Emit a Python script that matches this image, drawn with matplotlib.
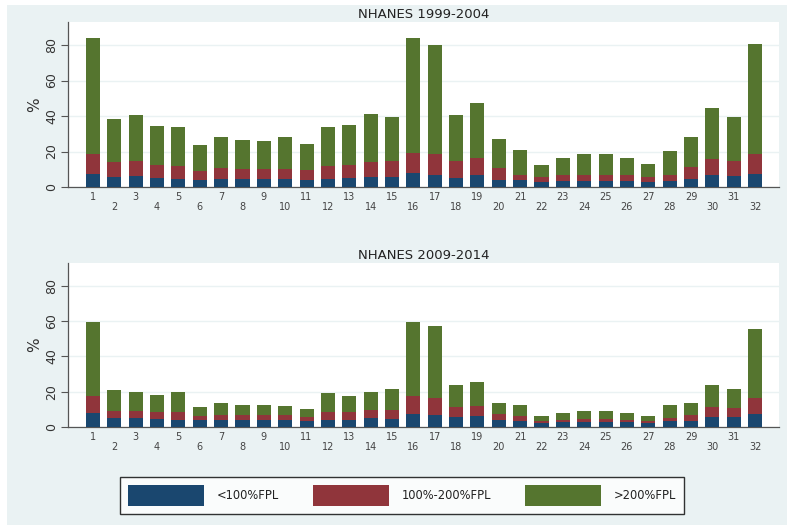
import matplotlib
matplotlib.use("Agg")
import matplotlib.pyplot as plt
from matplotlib import patches
import numpy as np

# Categories 1..32
groups = list(range(1, 33))

# NHANES 1999-2004, stacked segments (%)
blue_9904 = [7.5, 5.6, 6.0, 5.1, 4.7, 3.8, 4.3, 4.3, 4.3, 4.3, 3.8, 4.7, 5.1, 5.6, 5.6, 7.9,
             7.0, 5.1, 6.6, 4.1, 3.8, 2.8, 3.2, 3.6, 3.6, 3.6, 2.8, 3.6, 4.5, 7.0, 6.0, 7.3]
red_9904 = [11.3, 8.5, 8.5, 7.5, 7.0, 5.0, 6.4, 5.7, 5.7, 6.1, 6.0, 7.2, 7.5, 8.7, 9.1, 11.5,
            11.8, 9.4, 10.0, 6.6, 3.2, 2.8, 3.4, 3.4, 3.4, 3.4, 2.8, 3.4, 6.8, 9.0, 8.9, 11.3]
green_9904 = [65.3, 24.5, 26.0, 22.0, 22.2, 14.7, 17.7, 16.7, 16.2, 17.6, 14.3, 22.0, 22.4, 26.7, 25.0, 64.7,
              61.2, 26.0, 30.5, 16.6, 14.1, 7.0, 9.6, 11.8, 11.4, 9.6, 7.4, 13.3, 16.7, 28.8, 24.8, 62.0]

# NHANES 2009-2014
blue_0914 = [7.9, 5.1, 5.1, 4.7, 4.1, 3.8, 3.8, 3.8, 3.8, 3.8, 3.6, 4.1, 4.1, 5.1, 4.7, 7.5,
             7.0, 5.6, 6.0, 3.8, 3.2, 2.3, 2.8, 3.0, 3.0, 2.8, 2.3, 3.2, 3.6, 5.6, 5.5, 7.2]
red_0914 = [9.8, 4.1, 4.1, 4.0, 4.2, 2.2, 3.2, 3.2, 2.8, 2.8, 1.9, 4.2, 4.2, 4.3, 5.1, 9.8,
            9.4, 5.7, 5.7, 3.7, 2.8, 1.1, 1.0, 1.7, 1.5, 1.3, 0.9, 1.9, 3.0, 5.5, 5.4, 9.2]
green_0914 = [41.6, 11.7, 10.9, 9.2, 11.5, 5.1, 6.4, 5.6, 5.6, 5.4, 4.9, 10.9, 9.4, 10.7, 11.7, 42.4,
              40.6, 12.6, 13.7, 6.1, 6.2, 3.0, 3.9, 4.5, 4.3, 4.0, 2.8, 7.3, 6.8, 12.8, 10.7, 39.1]

labels = ['<100%FPL', '100%-200%FPL', '>200%FPL']
colors = ['#1a476f', '#90353b', '#55752f']
bg = '#eaf2f3'

fig = plt.figure(figsize=(8, 5.3), dpi=100, facecolor='white')

# Stata-like graph region behind everything
bg_ax = fig.add_axes([7/800, 1-525/530, 780/800, 520/530], zorder=-10)
bg_ax.set_facecolor(bg)
bg_ax.set_xticks([])
bg_ax.set_yticks([])
for s in bg_ax.spines.values():
    s.set_visible(False)


def panel(rect, title, blue, red, green):
    ax = fig.add_axes(rect)
    ax.set_facecolor('white')
    x = np.array(groups)
    b = np.array(blue)
    r = np.array(red)
    g = np.array(green)
    ax.bar(x, b, width=0.66, color=colors[0], zorder=3)
    ax.bar(x, r, width=0.66, bottom=b, color=colors[1], zorder=3)
    ax.bar(x, g, width=0.66, bottom=b + r, color=colors[2], zorder=3)
    ax.set_xlim(-0.17, 33.12)
    ax.set_ylim(0, 93)
    ax.set_yticks([0, 20, 40, 60, 80])
    ax.tick_params(axis='y', labelsize=9, labelcolor='#333333', pad=2,
                   length=5, color='#555555', width=0.8)
    for t in ax.get_yticklabels():
        t.set_rotation(90)
        t.set_va('center')
        t.set_ha('right')
    ax.yaxis.grid(True, color=bg, linewidth=1, zorder=0)
    ax.set_ylabel('%', fontsize=11, color='#333333', labelpad=2)
    ax.set_xticks(x)
    ax.set_xticklabels([])
    ax.tick_params(axis='x', length=0)
    # alternating (staggered) category labels
    for xi in x:
        off = -0.06 if xi % 2 == 1 else -0.12
        ax.text(xi, off, str(xi), transform=ax.get_xaxis_transform(),
                ha='center', va='center', fontsize=7, color='#444444')
    for s in ['top', 'right']:
        ax.spines[s].set_visible(False)
    ax.spines['left'].set_color('#555555')
    ax.spines['bottom'].set_color('#555555')
    ax.spines['left'].set_linewidth(0.9)
    ax.spines['bottom'].set_linewidth(0.9)
    ax.set_title(title, fontsize=9.5, color='#222222', pad=3)
    return ax


ax1 = panel([68/800, 1-187/530, 711/800, 165/530], 'NHANES 1999-2004',
            blue_9904, red_9904, green_9904)
ax2 = panel([68/800, 1-427/530, 711/800, 164/530], 'NHANES 2009-2014',
            blue_0914, red_0914, green_0914)

handles = [patches.Patch(facecolor=c, edgecolor='none') for c in colors]
leg_ax = fig.add_axes([120/800, 1-515/530, 564/800, 39/530])
leg_ax.axis('off')
leg = leg_ax.legend(handles, labels, loc='center', ncol=3, mode='expand',
                    bbox_to_anchor=(0, 0, 1, 1), fontsize=8.3, frameon=True,
                    fancybox=False, edgecolor='black', handlelength=6.6,
                    handleheight=2.5, handletextpad=1.1, borderpad=0.7,
                    borderaxespad=0)
leg.get_frame().set_linewidth(1.0)
for t in leg.get_texts():
    t.set_color('#222222')

fig.savefig('out.png', dpi=100, facecolor='white')
